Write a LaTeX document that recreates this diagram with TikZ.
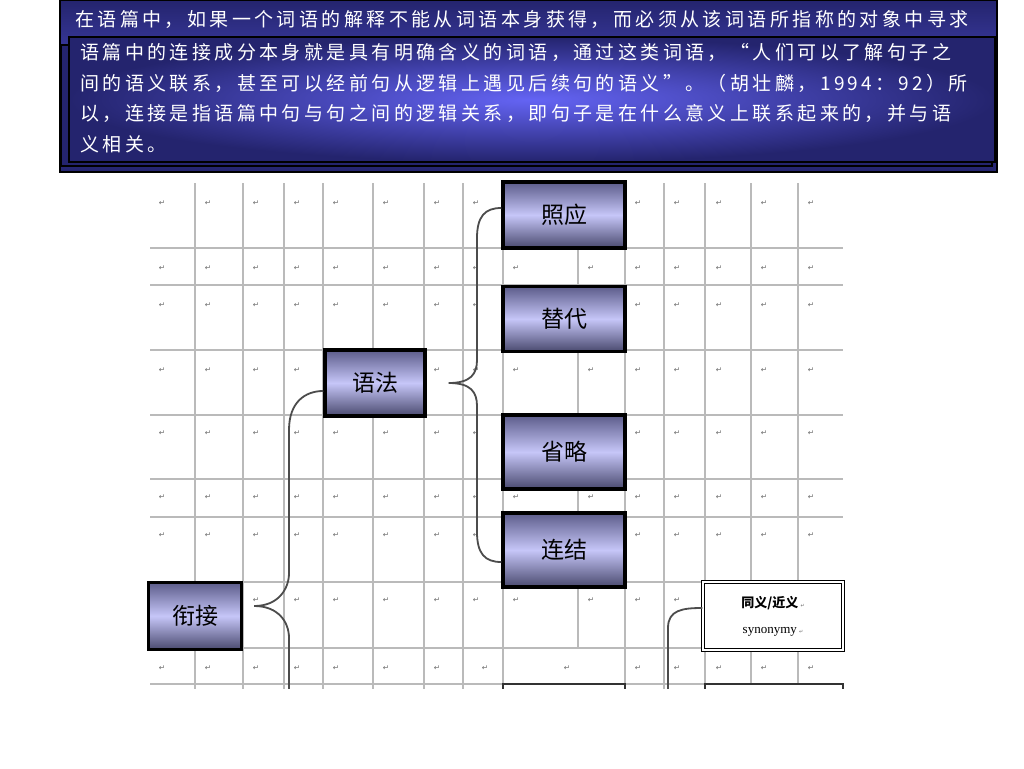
\documentclass[tikz,border=0pt]{standalone}
\usepackage{fontspec}
\setmainfont{Liberation Serif}
\newfontfamily\cjk{Noto Sans CJK SC}
\newfontfamily\cjkhead[LetterSpace=18]{Noto Sans CJK SC}
\newfontfamily\markfont{DejaVu Sans}
\usepackage{xcolor}
\definecolor{headdark}{RGB}{36,36,110}
\definecolor{headlight}{RGB}{100,100,244}
\definecolor{stripblue}{RGB}{70,70,184}
\definecolor{boxedge}{RGB}{92,92,138}
\definecolor{boxface}{RGB}{198,198,248}
\definecolor{gridgray}{RGB}{186,186,186}
\definecolor{markgray}{RGB}{105,105,105}
\newcommand{\widthterm}{122pt}
\newcommand{\heightterm}{66pt}
\newcommand{\markglyph}{↵}
\tikzset{
    gridline/.style={draw=gridgray, line width=1.3pt},
    cellmark/.style={font=\markfont\fontsize{7.5}{7.5}\selectfont, text=markgray, inner sep=0pt},
    term/.style={draw=black, line width=3.5pt, rectangle, inner sep=0pt,
        minimum width=\widthterm, minimum height=\heightterm,
        top color=boxedge, bottom color=boxedge!80!black, middle color=boxface,
        font=\cjk\fontsize{23}{23}\selectfont},
    gloss/.style={draw=black, line width=1.4pt, double=white, double distance=1.6pt,
        rectangle, fill=white, minimum width=140pt, minimum height=68pt, align=center,
        font=\fontsize{13}{14}\selectfont},
    cutbox/.style={draw=black!80, line width=2pt, fill=white},
    bracestroke/.style={draw=black!70, line width=1.8pt},
    headtext/.style={text=white, anchor=west, inner sep=0pt, align=left,
        font=\cjkhead\fontsize{19}{30.5}\selectfont},
}

\begin{document}
\begin{tikzpicture}[x=1pt, y=-1pt]
  \path[use as bounding box, fill=white] (0,0) rectangle (1024,768);

  % header panels
  \draw[black, line width=2pt, top color=headdark, bottom color=headdark, middle color=stripblue]
      (60,0) rectangle (997,172);
  \draw[black, line width=1.5pt, fill=headdark] (61,45) rectangle (992,166);
  \draw[black, line width=2.5pt, inner color=headlight, outer color=headdark]
      (69,37) rectangle (995,162);
  \node[headtext] (headline) at (75,19)
      {在语篇中，如果一个词语的解释不能从词语本身获得，而必须从该词语所指称的对象中寻求};
  \node[headtext] (quote) at (80,98)
      {语篇中的连接成分本身就是具有明确含义的词语，通过这类词语，“人们可以了解句子之\\
       间的语义联系，甚至可以经前句从逻辑上遇见后续句的语义”。（胡壮麟，1994：92）所\\
       以，连接是指语篇中句与句之间的逻辑关系，即句子是在什么意义上联系起来的，并与语\\
       义相关。};

  \begin{scope}
    \clip (0,176) rectangle (1024,688);
    % table grid
    \foreach \x in {195,243,284,323,373,424,463,503,625,664,705,751,798}
        \draw[gridline] (\x,183) -- (\x,700);
    \draw[gridline] (578,183) -- (578,648);
    \foreach \y in {248,285,350,415,479,517,582,648,684}
        \draw[gridline] (150,\y) -- (843,\y);
    % cell marks, skipping the cells under the boxes
    \foreach \y/\xlist in {
        203/{162,208,256,297,336,386,437,476,638,677,719,764,811},
        268/{162,208,256,297,336,386,437,476,516,591,638,677,719,764,811},
        305/{162,208,256,297,336,386,437,476,638,677,719,764,811},
        370/{162,208,256,297,437,476,516,591,638,677,719,764,811},
        433/{162,208,256,297,336,386,437,476,638,677,719,764,811},
        497/{162,208,256,297,336,386,437,476,516,591,638,677,719,764,811},
        535/{162,208,256,297,336,386,437,476,638,677,719,764,811},
        600/{256,297,336,386,437,476,516,591,638,677},
        668/{162,208,256,297,336,386,437,485,567,638,677,719,764,811}}
        \foreach \x in \xlist
            \node[cellmark] (mark-\x-\y) at (\x,\y) {\markglyph};
    % boxes cut by the lower edge
    \draw[cutbox] (503,684) rectangle (625,740);
    \draw[cutbox] (705,684) rectangle (843,740);
    \coordinate (cohesionEnd) at (289,700);
    \coordinate (glossEnd) at (668,700);
  \end{scope}

  \node[term] (anaphora) at (564,215) {照应};
  \node[term, minimum height=65pt] (substitution) at (564,319) {替代};
  \node[term, minimum width=100pt] (grammar) at (375,383) {语法};
  \node[term, minimum height=74pt] (ellipsis) at (564,452) {省略};
  \node[term, minimum height=74pt] (conjunction) at (564,550) {连结};
  \node[term, minimum width=93pt, minimum height=67pt] (cohesion) at (195,616) {衔接};
  \node[gloss] (synonymy) at (773,616)
      {{\cjk\bfseries 同义/近义}\,{\markfont\tiny\color{markgray}\markglyph}\\[12pt]
       synonymy\,{\markfont\tiny\color{markgray}\markglyph}};

  \coordinate (grammarTip) at ([xshift=22pt]grammar.east);
  \coordinate (cohesionTip) at ([xshift=11pt, yshift=10pt]cohesion.east);

  \begin{scope}
    \clip (0,176) rectangle (1024,688);
    \draw[bracestroke] (grammarTip) .. controls +(22,0) and +(0,14) .. (477,360)
        -- (477,238) .. controls +(0,-22) and +(-16,0) .. ([yshift=7pt]anaphora.west);
    \draw[bracestroke] (grammarTip) .. controls +(22,0) and +(0,-14) .. (477,406)
        -- (477,532) .. controls +(0,22) and +(-16,0) .. ([yshift=-12pt]conjunction.west);
    \draw[bracestroke] (cohesionTip) .. controls +(24,0) and +(0,16) .. (289,573)
        -- (289,430) .. controls +(0,-28) and +(-18,0) .. ([yshift=-8pt]grammar.west);
    \draw[bracestroke] (cohesionTip) .. controls +(24,0) and +(0,-16) .. (289,638)
        -- (cohesionEnd);
    \draw[bracestroke] ([yshift=8pt]synonymy.west) .. controls +(-20,0) and +(0,-18) .. (668,628)
        -- (glossEnd);
  \end{scope}
\end{tikzpicture}
\end{document}
